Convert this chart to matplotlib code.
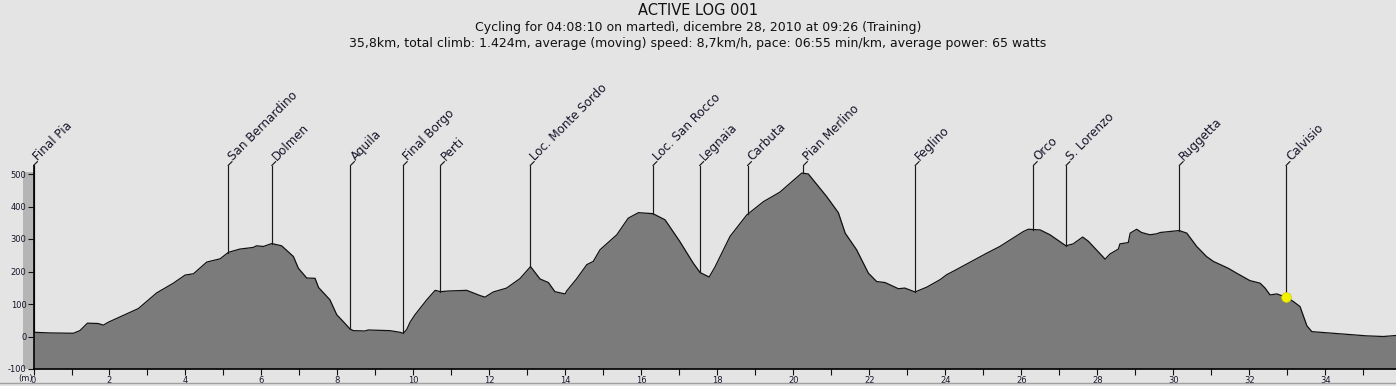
import numpy as np
import matplotlib.pyplot as plt
from matplotlib.lines import Line2D
from matplotlib.patches import Rectangle
import matplotlib.transforms as mtransforms

# elevation profile (km, m)
dist_km = [0.00, 0.43, 1.05, 1.22, 1.42, 1.70, 1.84, 1.97, 2.76, 3.24,
           3.68, 3.99, 4.21, 4.56, 4.91, 5.13, 5.43, 5.78, 5.87, 6.05,
           6.27, 6.53, 6.84, 6.97, 7.19, 7.41, 7.50, 7.80, 7.98, 8.15,
           8.33, 8.42, 8.72, 8.81, 9.38, 9.64, 9.73, 9.82, 9.91, 10.04,
           10.35, 10.57, 10.71, 10.92, 11.40, 11.75, 11.88, 12.10, 12.45, 12.80,
           13.08, 13.33, 13.55, 13.72, 13.99, 14.03, 14.29, 14.56, 14.73, 14.91,
           15.35, 15.65, 15.92, 16.30, 16.62, 17.01, 17.36, 17.54, 17.78, 17.93,
           18.33, 18.77, 19.21, 19.64, 20.22, 20.39, 20.87, 21.18, 21.36, 21.66,
           21.97, 22.19, 22.41, 22.76, 22.93, 23.20, 23.51, 23.86, 24.03, 24.29,
           25.08, 25.43, 26.05, 26.18, 26.49, 26.75, 27.17, 27.36, 27.61, 27.76,
           28.20, 28.33, 28.55, 28.59, 28.81, 28.86, 29.03, 29.16, 29.38, 29.56,
           29.65, 29.91, 30.15, 30.35, 30.61, 30.87, 31.05, 31.44, 31.66, 32.01,
           32.28, 32.41, 32.54, 32.72, 32.96, 33.15, 33.33, 33.51, 33.64, 35.08,
           35.52, 35.85]
elev_m = [13, 11, 10, 18, 41, 40, 35, 44, 86, 134,
          164, 189, 193, 229, 239, 259, 269, 274, 279, 277,
          286, 279, 246, 210, 180, 179, 151, 113, 67, 46,
          23, 18, 17, 20, 18, 13, 10, 21, 44, 67,
          113, 142, 138, 140, 142, 126, 121, 137, 149, 178,
          215, 177, 166, 138, 131, 140, 177, 221, 231, 267,
          313, 364, 381, 378, 359, 292, 226, 197, 183, 213,
          308, 374, 415, 444, 503, 500, 431, 381, 318, 267,
          195, 169, 166, 147, 149, 137, 152, 175, 190, 206,
          256, 277, 323, 330, 328, 313, 279, 285, 306, 293,
          238, 254, 269, 285, 289, 318, 330, 320, 313, 316,
          320, 323, 326, 318, 277, 246, 231, 210, 195, 172,
          164, 149, 128, 131, 121, 108, 92, 33, 15, 2,
          0, 3]

# waypoints
wp_names = ['Final Pia', 'San Bernardino', 'Dolmen', 'Aquila', 'Final Borgo',
            'Perti', 'Loc. Monte Sordo', 'Loc. San Rocco', 'Legnaia', 'Carbuta',
            'Pian Merlino', 'Feglino', 'Orco', 'S. Lorenzo', 'Ruggetta', 'Calvisio']
wp_km = [0.0, 5.12, 6.27, 8.34, 9.73, 10.71, 13.07, 16.30, 17.53, 18.79,
         20.26, 23.20, 26.31, 27.17, 30.15, 32.96]
current_km = 32.96

title = 'ACTIVE LOG 001'
line2 = 'Cycling for 04:08:10 on martedì, dicembre 28, 2010 at 09:26 (Training)'
line3 = ('35,8km, total climb: 1.424m, average (moving) speed: 8,7km/h, '
         'pace: 06:55 min/km, average power: 65 watts')

bg = '#e4e4e4'
txt = '#15152a'
W, H = 1396, 386

fig = plt.figure(figsize=(W / 100, H / 100), dpi=100, facecolor=bg)
left_px, bottom_px, top_px = 33.5, 17, 60
ax = fig.add_axes([left_px / W, bottom_px / H, 1 - left_px / W, (H - bottom_px - top_px) / H])
ax.set_facecolor(bg)

px_per_km = 38.0
px_per_m = 0.325
ax.set_xlim(0, (W - left_px) / px_per_km)
ax.set_ylim(-100, -100 + (H - bottom_px - top_px) / px_per_m)

# profile
ax.fill_between(dist_km, elev_m, -100, color='#7b7b7b', lw=0, zorder=1)
ax.plot(dist_km, elev_m, color='#111111', lw=0.9, zorder=2)

# y axis band
band = Rectangle((-10.5 / (W - left_px), -100), 10.5 / (W - left_px), 605,
                 transform=mtransforms.blended_transform_factory(ax.transAxes, ax.transData),
                 facecolor='#b5b5b5', edgecolor='none', clip_on=False, zorder=0)
ax.add_patch(band)

# waypoint markers
top_m = 526
for name, km in zip(wp_names, wp_km):
    base = np.interp(km, dist_km, elev_m)
    ax.plot([km, km], [base, top_m], color='#1a1a1a', lw=0.85, zorder=3, clip_on=False)
    ax.annotate('', xy=(km, top_m), xytext=(4, 4), textcoords='offset pixels',
                arrowprops=dict(arrowstyle='-', lw=0.85, color='#1a1a1a',
                                shrinkA=0, shrinkB=0), annotation_clip=False)
    ax.annotate(name, xy=(km, top_m), xytext=(5, 5), textcoords='offset pixels',
                rotation=45, rotation_mode='anchor', ha='left', va='baseline',
                fontsize=8.6, color=txt, annotation_clip=False)

cur_elev = np.interp(current_km, dist_km, elev_m)
ax.plot(current_km, cur_elev, 'o', color='#f2f200', ms=7, mec='#cccc00',
        mew=0.5, zorder=6, clip_on=False)

# axes
for s in ['top', 'right']:
    ax.spines[s].set_visible(False)
ax.spines['left'].set_bounds(-100, top_m)
ax.spines['left'].set_linewidth(1.2)
ax.spines['bottom'].set_linewidth(1.2)
ax.spines['left'].set_zorder(4)

ax.set_yticks(range(-100, 501, 100))
ax.set_yticklabels([str(v) for v in range(-100, 501, 100)])
ax.set_xticks(range(0, 36))
ax.set_xticklabels([str(k) if k % 2 == 0 else '' for k in range(0, 36)])
ax.tick_params(axis='both', direction='out', length=4, width=0.8, colors='#111111',
               labelsize=6, labelcolor=txt, pad=1)
ax.annotate('(m)', xy=(0, -100), xytext=(-1, -9), textcoords='offset pixels',
            ha='right', va='center', fontsize=6, color=txt, annotation_clip=False)

fig.add_artist(Line2D([0, 1], [3.5 / H, 3.5 / H], transform=fig.transFigure,
                      color='#a0a0a0', lw=1))

# titles
fig.text(0.5, 1 - 15 / H, title, ha='center', va='baseline', fontsize=10.5, color='#111111')
fig.text(0.5, 1 - 31 / H, line2, ha='center', va='baseline', fontsize=9, color='#111111')
fig.text(0.5, 1 - 47.5 / H, line3, ha='center', va='baseline', fontsize=9, color='#111111')

fig.savefig('out.png', dpi=100, facecolor=bg)
